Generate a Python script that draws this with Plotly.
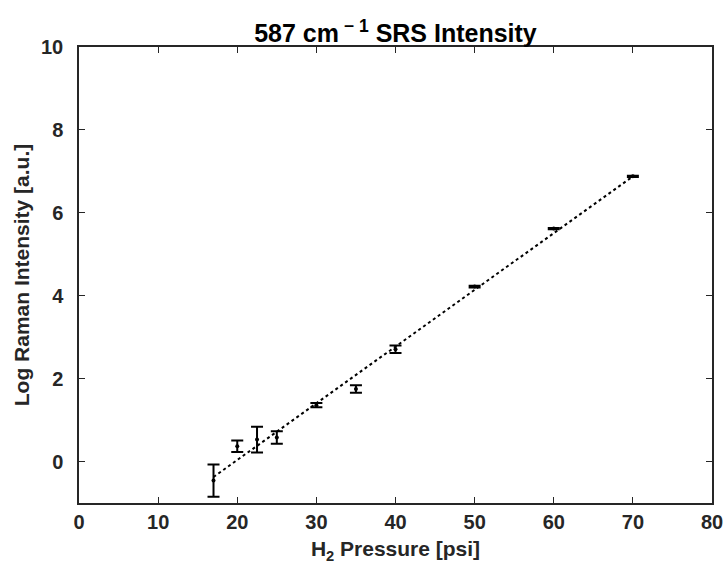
import numpy as np
import plotly.graph_objects as go

# Data
pressure_psi = [17, 20, 22.5, 25, 30, 35, 40, 50, 60, 70]
log_intensity = [-0.46, 0.37, 0.53, 0.58, 1.36, 1.75, 2.71, 4.22, 5.62, 6.88]
log_error = [0.39, 0.14, 0.31, 0.15, 0.05, 0.09, 0.09, 0.02, 0.015, 0.015]

x_ticks = [0, 10, 20, 30, 40, 50, 60, 70, 80]
y_ticks = [0, 2, 4, 6, 8, 10]

# Linear fit to the data (dotted line)
slope, intercept = np.polyfit(pressure_psi, log_intensity, 1)
fit_x = [min(pressure_psi), max(pressure_psi)]
fit_y = [intercept + slope * v for v in fit_x]

ink = "#262626"
font_family = "Liberation Sans, Arial, sans-serif"

fig = go.Figure()
fig.add_trace(go.Scatter(
    x=fit_x, y=fit_y, mode="lines",
    line=dict(color="black", width=2, dash="dot"),
    showlegend=False, hoverinfo="skip"))
fig.add_trace(go.Scatter(
    x=pressure_psi, y=log_intensity, mode="markers",
    marker=dict(color="black", size=4),
    error_y=dict(type="data", array=log_error, color="black", thickness=2, width=6),
    showlegend=False))

tickfont = dict(family=font_family, size=20, color=ink)
axis_common = dict(
    showline=True, linecolor=ink, linewidth=1.5, mirror="ticks",
    ticks="inside", ticklen=6, tickwidth=1, tickcolor=ink,
    showgrid=False, zeroline=False, tickfont=tickfont, automargin=False)

fig.update_layout(
    width=726, height=576,
    margin=dict(l=79, r=14, t=47, b=73, autoexpand=False),
    paper_bgcolor="white", plot_bgcolor="white",
    title=dict(
        text="<b>587 cm<sup> − 1</sup> SRS Intensity</b>",
        font=dict(family=font_family, size=25, color="black"),
        x=0.5, xref="paper", xanchor="center",
        y=1, yref="paper", yanchor="bottom", pad=dict(b=5)),
    xaxis=dict(
        range=[0, 80], tickvals=x_ticks, ticktext=[f"<b>{v}</b>" for v in x_ticks],
        ticklabelstandoff=0,
        title=dict(text="<b>H<sub>2</sub> Pressure [psi]</b>",
                   font=dict(family=font_family, size=21, color=ink),
                   standoff=10),
        **axis_common),
    yaxis=dict(
        range=[-1, 10], tickvals=y_ticks, ticktext=[f"<b>{v}</b>" for v in y_ticks],
        ticklabelstandoff=10,
        title=dict(text="<b>Log Raman Intensity [a.u.]</b>",
                   font=dict(family=font_family, size=21, color=ink),
                   standoff=6),
        **axis_common),
)

# Remove the default page margin so the 726x576 figure fills the window exactly.
fig.write_html("out.html", config={"displayModeBar": False},
               post_script="document.body.style.margin='0';")
